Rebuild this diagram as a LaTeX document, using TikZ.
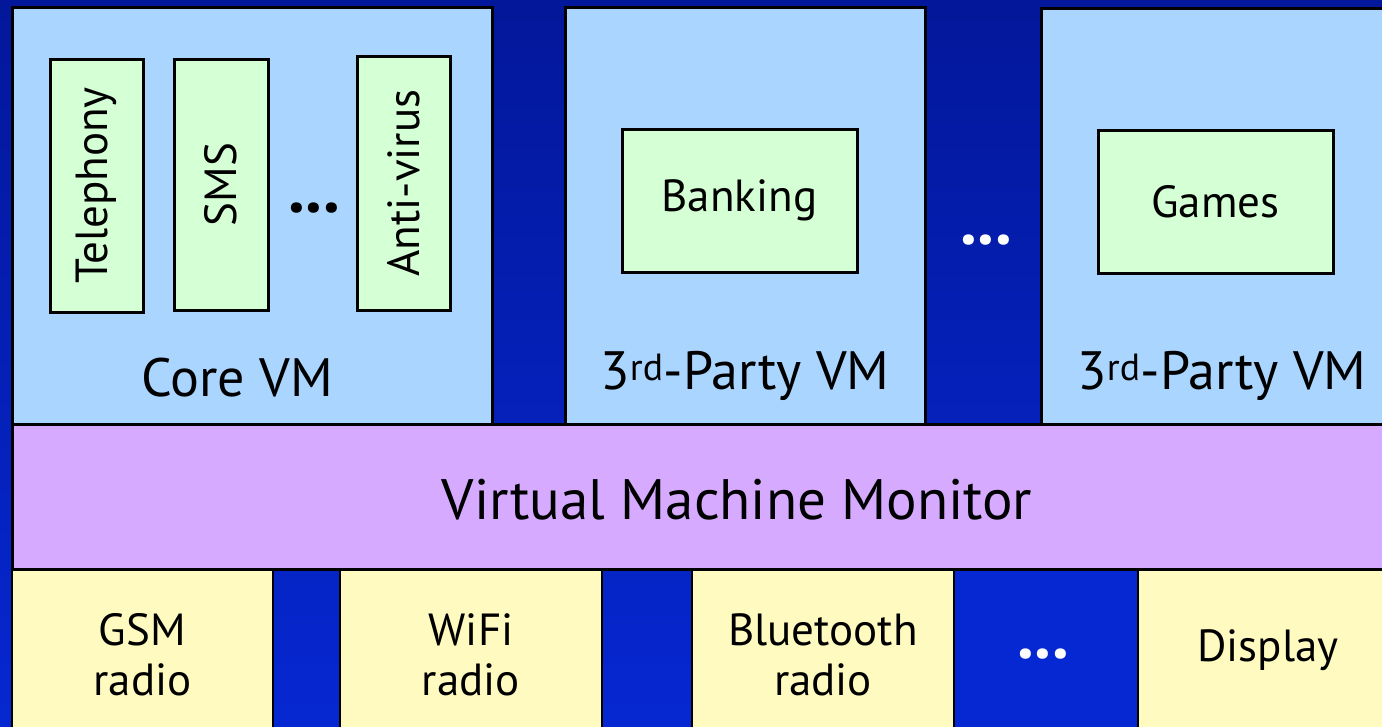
\documentclass[tikz,border=0pt]{standalone}
\usepackage{fontspec}
\setmainfont{PT Sans}
\definecolor{vmblue}{HTML}{AAD5FF}
\definecolor{appgreen}{HTML}{D5FFD5}
\definecolor{vmmpurple}{HTML}{D5AAFF}
\definecolor{hwyellow}{HTML}{FFFABF}
\definecolor{bgtop}{HTML}{03179A}
\definecolor{bgbot}{HTML}{0628D2}
\begin{document}
\begin{tikzpicture}[x=1pt,y=-1pt,
  box/.style={draw=black,line width=3pt,inner sep=0pt,outer sep=0pt},
  vm/.style={box,fill=vmblue},
  app/.style={box,fill=appgreen},
  hw/.style={box,line width=2.5pt,fill=hwyellow,align=center,font=\fontsize{45}{50}\selectfont},
  lbl/.style={font=\fontsize{54}{58}\selectfont},
  applbl/.style={font=\fontsize{45}{48}\selectfont},
  dots/.style={font=\bfseries\fontsize{68}{68}\selectfont,anchor=base,inner sep=0pt}]
\useasboundingbox (0,0) rectangle (1382,726);
\clip (0,0) rectangle (1382,726);
\shade[top color=bgtop,bottom color=bgbot] (0,0) rectangle (1382,726);
% Core VM
\node[vm,minimum width=480,minimum height=418] (core) at (252,216) {};
\node[app,minimum width=93,minimum height=253] (tel) at (96.5,185.5) {};
\node[applbl,rotate=90] (telt) at (tel.center) {Telephony};
\node[app,minimum width=94,minimum height=251] (sms) at (221,184.5) {};
\node[applbl,rotate=90] (smst) at (sms.center) {SMS};
\node[app,minimum width=93,minimum height=254] (av) at (403.5,183) {};
\node[applbl,rotate=90] (avt) at (av.center) {Anti-virus};
\node[dots] (cdots) at (314,212) {...};
\node[lbl] (corel) at (237,378) {Core VM};
% 3rd party VM 1
\node[vm,minimum width=360,minimum height=418] (tp1) at (745,216) {};
\node[app,minimum width=235,minimum height=143] (bank) at (739.5,200.5) {};
\node[applbl] (bankt) at (bank.center) {Banking};
\node[lbl] (tp1l) at (745,376) {3\textsuperscript{rd}-Party VM};
% dots
\node[dots,text=white] (mdots) at (986,244) {...};
% 3rd party VM 2
\node[vm,minimum width=345,minimum height=419] (tp2) at (1213.5,217.5) {};
\node[app,minimum width=235,minimum height=143] (games) at (1215.5,201.5) {};
\node[applbl] (gamest) at (games.center) {Games};
\node[lbl] (tp2l) at (1222,376) {3\textsuperscript{rd}-Party VM};
% VMM
\node[box,fill=vmmpurple,minimum width=1380,minimum height=145] (vmm) at (702,497) {};
\node[font=\fontsize{57}{60}\selectfont] (vmmt) at (737,500) {Virtual Machine Monitor};
% hardware
\node[hw,minimum width=261,minimum height=170] (gsm) at (142.5,655) {GSM\\radio};
\node[hw,minimum width=262,minimum height=170] (wifi) at (471,655) {WiFi\\radio};
\node[hw,minimum width=262,minimum height=170] (bt) at (823,655) {Bluetooth\\radio};
\node[box,line width=2.5pt,fill=bgbot,minimum width=184,minimum height=170] (hdots) at (1046,655) {};
\node[dots,text=white] (hdt) at (1043,658) {...};
\node[hw,minimum width=250,minimum height=170] (disp) at (1263,655) {};
\node[font=\fontsize{45}{50}\selectfont] (dispt) at (1268,650) {Display};
\end{tikzpicture}
\end{document}
